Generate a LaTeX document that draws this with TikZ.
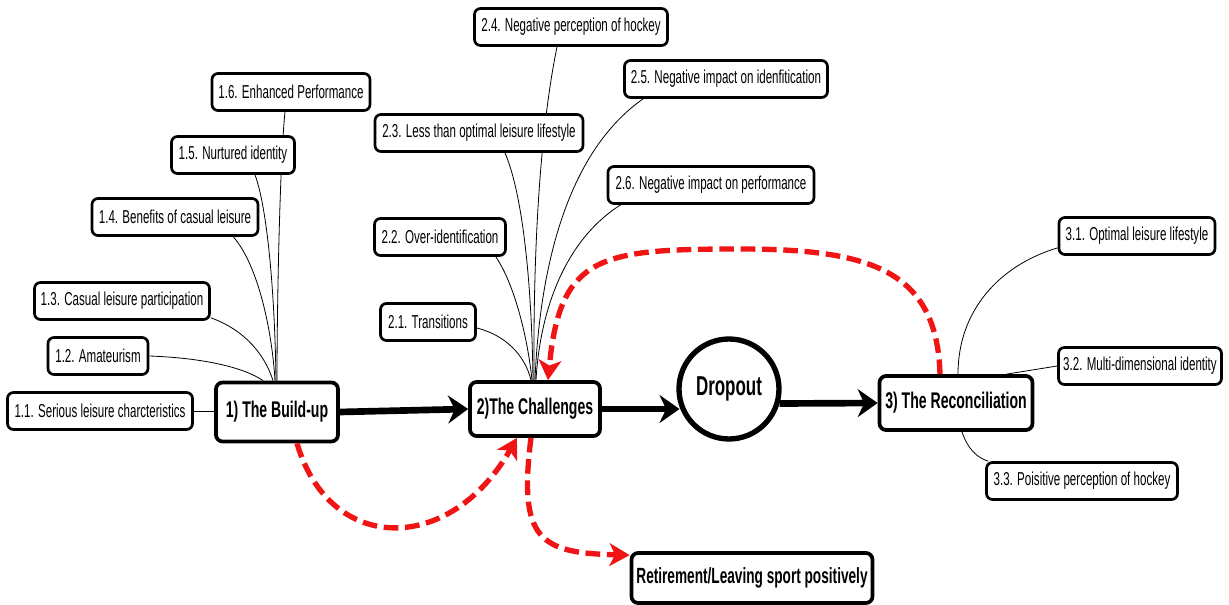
\documentclass[tikz,border=0pt]{standalone}
\usepackage{fontspec}
\setmainfont{Liberation Sans}[FakeStretch=0.62]
\usetikzlibrary{arrows.meta,calc}
\definecolor{dred}{RGB}{240,20,20}
\pgfdeclarelayer{bg}
\pgfsetlayers{bg,main}
\tikzset{
  sub/.style={draw, line width=2pt, rounded corners=4.5pt, fill=white, minimum height=27.75pt, inner sep=2pt, font=\fontsize{14}{16}\selectfont},
  mainbox/.style={draw, line width=2.8pt, rounded corners=5pt, fill=white, inner sep=2pt, font=\fontsize{17}{19}\selectfont\bfseries},
  conn/.style={line width=0.6pt},
  flow/.style={line width=5pt, -{Stealth[length=15pt,width=21pt,inset=5pt]}},
  back/.style={draw=dred, line width=4pt, dash pattern=on 11pt off 5pt, -{Stealth[length=15pt,width=17pt,inset=4pt]}},
}
\begin{document}
\begin{tikzpicture}[x=0.75pt,y=-0.75pt]
\useasboundingbox (0,0) rectangle (1229,605);

% sub-topic nodes
\node[sub, minimum width=138.75pt] (s11) at (100,411) {1.1. Serious leisure charcteristics};
\node[sub, minimum width=75pt] (s12) at (98,356) {1.2. Amateurism};
\node[sub, minimum width=131.25pt] (s13) at (122,301) {1.3. Casual leisure participation};
\node[sub, minimum width=124.5pt] (s14) at (175,217) {1.4. Benefits of casual leisure};
\node[sub, minimum width=92.25pt] (s15) at (233,155) {1.5. Nurtured identity};
\node[sub, minimum width=118.5pt] (s16) at (291,92) {1.6. Enhanced Performance};

\node[sub, minimum width=144.75pt] (s24) at (571,27) {2.4. Negative perception of hockey};
\node[sub, minimum width=152.25pt] (s25) at (726,79) {2.5. Negative impact on idenfitication};
\node[sub, minimum width=156pt] (s23) at (479,133) {2.3. Less than optimal leisure lifestyle};
\node[sub, minimum width=154.5pt] (s26) at (711,185) {2.6. Negative impact on performance};
\node[sub, minimum width=98.25pt] (s22) at (440,237) {2.2. Over-identification};
\node[sub, minimum width=71.25pt] (s21) at (428,322) {2.1. Transitions};

\node[sub, minimum width=117pt] (s31) at (1137,236) {3.1. Optimal leisure lifestyle};
\node[sub, minimum width=122.25pt] (s32) at (1140,366) {3.2. Multi-dimensional identity};
\node[sub, minimum width=143.25pt] (s33) at (1082,481) {3.3. Poisitive perception of hockey};

% main nodes
\node[mainbox, minimum width=91.5pt, minimum height=44.25pt] (b1) at (277,412) {1) The Build-up};
\node[mainbox, minimum width=97.5pt, minimum height=40.5pt] (b2) at (535,409) {2)The Challenges};
\node[mainbox, minimum width=114.75pt, minimum height=40.5pt] (b3) at (956,403) {3) The Reconciliation};
\node[draw, circle, line width=4pt, minimum size=75pt, inner sep=0pt, fill=white, font=\fontsize{20.5}{22}\selectfont\bfseries] (drop) at (729,389) {Dropout};
\node[mainbox, minimum width=180.75pt, minimum height=37.5pt, font=\fontsize{16.5}{18}\selectfont\bfseries] (ret) at (752,578) {Retirement/Leaving sport positively};

\begin{pgfonlayer}{bg}
% build-up connectors
\draw[conn] (s11.east) -- (b1.west |- s11.east);
\draw[conn] (s12.east) .. controls (205,358) and (245,368) .. ($(b1.north)+(-14,0)$);
\draw[conn] ($(s13.south east)+(0,-3)$) .. controls (245,330) and (265,355) .. ($(b1.north)+(-4,0)$);
\draw[conn] ($(s14.south east)+(-26,0)$) .. controls (258,265) and (272,330) .. ($(b1.north)+(-2,0)$);
\draw[conn] ($(s15.south)+(22,0)$) .. controls (268,210) and (275,300) .. ($(b1.north)+(-1,0)$);
\draw[conn] ($(s16.south)+(-6,0)$) .. controls (280,160) and (277,300) .. (b1.north);
% challenges connectors
\draw[conn] ($(s21.east)+(0,6)$) .. controls (505,335) and (525,355) .. ($(b2.north)+(-4,0)$);
\draw[conn] ($(s22.south east)+(-11,0)$) .. controls (515,285) and (528,340) .. ($(b2.north)+(-3,0)$);
\draw[conn] ($(s23.south)+(26,0)$) .. controls (525,200) and (532,300) .. ($(b2.north)+(-2,0)$);
\draw[conn] ($(s24.south)+(-14,0)$) .. controls (540,130) and (533,250) .. ($(b2.north)+(-1,0)$);
\draw[conn] ($(s25.south west)+(20,0)$) .. controls (570,150) and (540,260) .. (b2.north);
\draw[conn] ($(s26.south west)+(14,0)$) .. controls (565,240) and (540,310) .. ($(b2.north)+(1,0)$);
% reconciliation connectors
\draw[conn] ($(s31.south west)+(0,-8)$) .. controls (1000,265) and (958,310) .. ($(b3.north)+(2,0)$);
\draw[conn] (s32.west) -- ($(b3.north east)+(-28,0)$);
\draw[conn] ($(b3.south)+(6,0)$) .. controls (968,450) and (978,458) .. ($(s33.north west)+(3,0)$);
\end{pgfonlayer}

% main flow
\draw[flow] (b1.east) -- (b2.west);
\draw[flow] (b2.east) -- (b2.east -| drop.200);
\draw[flow] (drop.-16) -- (b3.west);

% red dashed arrows
\coordinate (ctop) at (740,249);
\draw[back] ($(b1.south)+(20,0)$) .. controls (330,555) and (450,555) .. ($(b2.south)+(-18,0)$);
\draw[back] ($(b2.south)+(-4,0)$) .. controls (518,540) and (540,553) .. ($(ret.north west)+(0,4)$);
\draw[back] ($(b3.north)+(-16,0)$) .. controls (937,270) and (870,249) .. (ctop) .. controls (600,249) and (560,255) .. ($(b2.north)+(13,0)$);
\end{tikzpicture}
\end{document}
